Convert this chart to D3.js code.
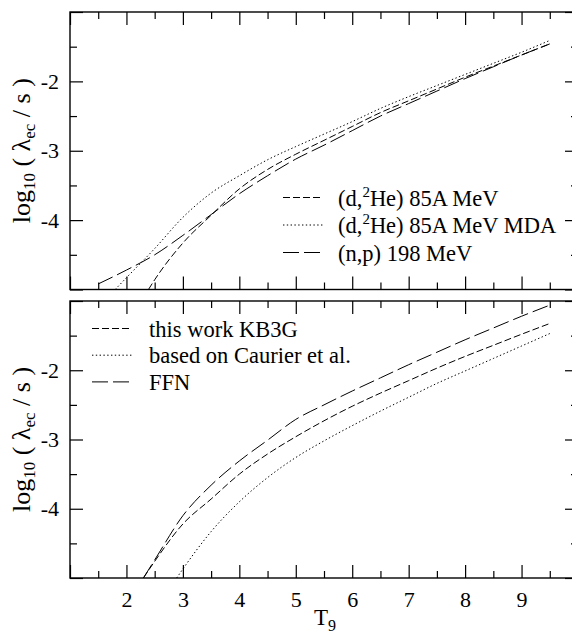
<!DOCTYPE html>
<html>
<head>
<meta charset="utf-8">
<script src="https://cdn.jsdelivr.net/npm/d3@7"></script>
</head>
<body style="margin:0;background:white">
<script>
// T9 grid values and tick labels
var xMajor = [1, 2, 3, 4, 5, 6, 7, 8, 9, 10];
var xMinor = [1.5, 2.5, 3.5, 4.5, 5.5, 6.5, 7.5, 8.5, 9.5];
var xLabels = [2, 3, 4, 5, 6, 7, 8, 9];
var yMajor = [-5, -4, -3, -2, -1];
var yMinor = [-4.5, -3.5, -2.5, -1.5];
var yLabels = [-4, -3, -2];

// top panel: (d,2He) 85A MeV
var tDHe = [2.39, 2.5, 3.0, 3.5, 4.0, 4.5, 5.0, 5.5, 6.0, 6.5, 7.0, 7.5, 8.0, 8.5, 9.0, 9.5];
var vDHe = [-5.0, -4.86, -4.33, -3.93, -3.55, -3.27, -3.05, -2.85, -2.65, -2.45, -2.28, -2.11, -1.94, -1.78, -1.62, -1.46];
// top panel: (d,2He) 85A MeV MDA
var tMDA = [1.8, 2.0, 2.5, 3.0, 3.5, 4.0, 4.5, 5.0, 5.5, 6.0, 6.5, 7.0, 7.5, 8.0, 8.5, 9.0, 9.5];
var vMDA = [-5.0, -4.83, -4.41, -3.96, -3.61, -3.36, -3.13, -2.94, -2.76, -2.58, -2.39, -2.22, -2.06, -1.90, -1.74, -1.58, -1.41];
// top panel: (n,p) 198 MeV
var tNP = [1.5, 2.0, 2.5, 3.0, 3.5, 4.0, 4.5, 5.0, 5.5, 6.0, 6.5, 7.0, 7.5, 8.0, 8.5, 9.0, 9.5];
var vNP = [-4.92, -4.72, -4.50, -4.22, -3.92, -3.62, -3.36, -3.12, -2.92, -2.71, -2.50, -2.32, -2.14, -1.96, -1.79, -1.62, -1.46];

// bottom panel: this work KB3G
var tKB3G = [2.3, 2.5, 3.0, 3.5, 4.0, 4.5, 5.0, 5.5, 6.0, 6.5, 7.0, 7.5, 8.0, 8.5, 9.0, 9.5];
var vKB3G = [-5.0, -4.76, -4.22, -3.86, -3.50, -3.21, -2.96, -2.73, -2.52, -2.33, -2.15, -1.97, -1.80, -1.64, -1.48, -1.325];
// bottom panel: based on Caurier et al.
var tCaurier = [2.89, 3.0, 3.5, 4.0, 4.5, 5.0, 5.5, 6.0, 6.5, 7.0, 7.5, 8.0, 8.5, 9.0, 9.5];
var vCaurier = [-5.0, -4.87, -4.33, -3.90, -3.55, -3.26, -3.02, -2.80, -2.59, -2.39, -2.19, -2.01, -1.83, -1.65, -1.47];
// bottom panel: FFN
var tFFN = [2.3, 2.5, 3.0, 3.5, 4.0, 4.5, 5.0, 5.5, 6.0, 6.5, 7.0, 7.5, 8.0, 8.5, 9.0, 9.5];
var vFFN = [-5.0, -4.74, -4.10, -3.66, -3.31, -3.01, -2.71, -2.50, -2.30, -2.11, -1.92, -1.74, -1.56, -1.39, -1.22, -1.06];

var width = 572, height = 637;
var left = 70, right = 578;
var serif = '"Liberation Serif"';

var svg = d3.select('body').append('svg')
  .attr('width', width)
  .attr('height', height)
  .style('display', 'block')
  .style('font-family', serif);

var x = d3.scaleLinear().domain([1, 10]).range([left, right]);

var dashShort = '7,3',
    dashLong = '16,5',
    dotted = '1.4,2.4';

var panels = [
  {
    top: 12, bottom: 289.5, id: 'p1', labels: false,
    series: [
      { t: tDHe, v: vDHe, dash: dashShort },
      { t: tMDA, v: vMDA, dash: dotted },
      { t: tNP, v: vNP, dash: dashLong }
    ],
    legend: { x1: 283, x2: 323, tx: 338, y0: 197.5, dy: 27.5 }
  },
  {
    top: 301, bottom: 578, id: 'p2', labels: true,
    series: [
      { t: tKB3G, v: vKB3G, dash: dashShort },
      { t: tCaurier, v: vCaurier, dash: dotted },
      { t: tFFN, v: vFFN, dash: dashLong }
    ],
    legend: { x1: 92, x2: 132, tx: 149, y0: 328.5, dy: 26.7 }
  }
];

panels.forEach(function (p) {
  var y = d3.scaleLinear().domain([-5, -1]).range([p.bottom, p.top]);
  var g = svg.append('g');

  g.append('clipPath').attr('id', 'clip-' + p.id)
    .append('rect')
    .attr('x', left).attr('y', p.top)
    .attr('width', right - left).attr('height', p.bottom - p.top);

  // inward ticks on all four sides
  function ticks(axis, tr, vals, size) {
    var a = axis.tickValues(vals).tickSize(-size).tickFormat(function () { return ''; });
    var sel = g.append('g').attr('transform', tr).call(a);
    sel.select('.domain').remove();
    sel.selectAll('text').remove();
    sel.selectAll('line').attr('stroke', '#000').attr('stroke-width', 1.2);
    return sel;
  }
  ticks(d3.axisBottom(x), 'translate(0,' + p.bottom + ')', xMajor, 13);
  ticks(d3.axisBottom(x), 'translate(0,' + p.bottom + ')', xMinor, 7);
  ticks(d3.axisTop(x), 'translate(0,' + p.top + ')', xMajor, 13);
  ticks(d3.axisTop(x), 'translate(0,' + p.top + ')', xMinor, 7);
  ticks(d3.axisLeft(y), 'translate(' + left + ',0)', yMajor, 13);
  ticks(d3.axisLeft(y), 'translate(' + left + ',0)', yMinor, 7);
  ticks(d3.axisRight(y), 'translate(' + right + ',0)', yMajor, 13);
  ticks(d3.axisRight(y), 'translate(' + right + ',0)', yMinor, 7);

  // y tick labels
  var yl = g.append('g').attr('transform', 'translate(' + left + ',0)')
    .call(d3.axisLeft(y).tickValues(yLabels).tickSize(0).tickPadding(11)
      .tickFormat(function (d) { return d; }));
  yl.select('.domain').remove();
  yl.selectAll('text').attr('fill', '#000')
    .style('font-family', serif).style('font-size', '22px');

  if (p.labels) {
    var xl = g.append('g').attr('transform', 'translate(0,' + p.bottom + ')')
      .call(d3.axisBottom(x).tickValues(xLabels).tickSize(0).tickPadding(13)
        .tickFormat(function (d) { return d; }));
    xl.select('.domain').remove();
    xl.selectAll('text').attr('fill', '#000')
      .style('font-family', serif).style('font-size', '22px');
  }

  // frame
  g.append('rect')
    .attr('x', left).attr('y', p.top)
    .attr('width', right - left).attr('height', p.bottom - p.top)
    .attr('fill', 'none').attr('stroke', '#000').attr('stroke-width', 1.4);

  // curves
  var line = d3.line()
    .x(function (d) { return x(d[0]); })
    .y(function (d) { return y(d[1]); })
    .curve(d3.curveMonotoneX);

  g.append('g').attr('clip-path', 'url(#clip-' + p.id + ')')
    .selectAll('path')
    .data(p.series)
    .enter().append('path')
    .attr('d', function (s) { return line(d3.zip(s.t, s.v)); })
    .attr('fill', 'none')
    .attr('stroke', '#000')
    .attr('stroke-width', 1)
    .attr('stroke-dasharray', function (s) { return s.dash; });

  // legend samples
  g.selectAll('line.leg')
    .data(p.series)
    .enter().append('line')
    .attr('class', 'leg')
    .attr('x1', p.legend.x1).attr('x2', p.legend.x2)
    .attr('y1', function (s, i) { return p.legend.y0 + i * p.legend.dy; })
    .attr('y2', function (s, i) { return p.legend.y0 + i * p.legend.dy; })
    .attr('stroke', '#000').attr('stroke-width', 1)
    .attr('stroke-dasharray', function (s) { return s.dash; });

  // y axis title
  var yt = g.append('text')
    .attr('transform', 'translate(30,' + ((p.top + p.bottom) / 2) + ') rotate(-90)')
    .attr('text-anchor', 'middle')
    .attr('fill', '#000')
    .style('font-family', serif).style('font-size', '26px');
  yt.append('tspan').text('log');
  yt.append('tspan').style('font-size', '17px').attr('dy', 5).text('10');
  yt.append('tspan').attr('dy', -5).text('\u00a0(\u00a0\u03bb');
  yt.append('tspan').style('font-size', '17px').attr('dy', 5).text('ec');
  yt.append('tspan').attr('dy', -5).text('\u00a0/\u00a0s\u00a0)');
});

// legend texts
var legSize = '22.5px';
var leg1 = panels[0].legend;
function dHe(txt, row) {
  var t = svg.append('text')
    .attr('x', leg1.tx).attr('y', leg1.y0 + row * leg1.dy + 8)
    .attr('fill', '#000')
    .style('font-family', serif).style('font-size', legSize);
  t.append('tspan').text('(d,');
  t.append('tspan').style('font-size', '15px').attr('dy', -9).text('2');
  t.append('tspan').attr('dy', 9).text(txt);
}
dHe('He) 85A MeV', 0);
dHe('He) 85A MeV MDA', 1);
svg.append('text')
  .attr('x', leg1.tx).attr('y', leg1.y0 + 2 * leg1.dy + 8)
  .attr('fill', '#000')
  .style('font-family', serif).style('font-size', legSize)
  .text('(n,p) 198 MeV');

var leg2 = panels[1].legend;
var leg2Names = ['this work KB3G', 'based on Caurier et al.', 'FFN'];
svg.selectAll('text.leg2')
  .data(leg2Names)
  .enter().append('text')
  .attr('class', 'leg2')
  .attr('x', leg2.tx)
  .attr('y', function (d, i) { return leg2.y0 + i * leg2.dy + 8; })
  .attr('fill', '#000')
  .style('font-family', serif).style('font-size', legSize)
  .text(function (d) { return d; });

// x axis title
var xt = svg.append('text')
  .attr('x', 325).attr('y', 625)
  .attr('text-anchor', 'middle')
  .attr('fill', '#000')
  .style('font-family', serif).style('font-size', '23px');
xt.append('tspan').text('T');
xt.append('tspan').style('font-size', '16px').attr('dy', 6).text('9');
</script>
</body>
</html>
